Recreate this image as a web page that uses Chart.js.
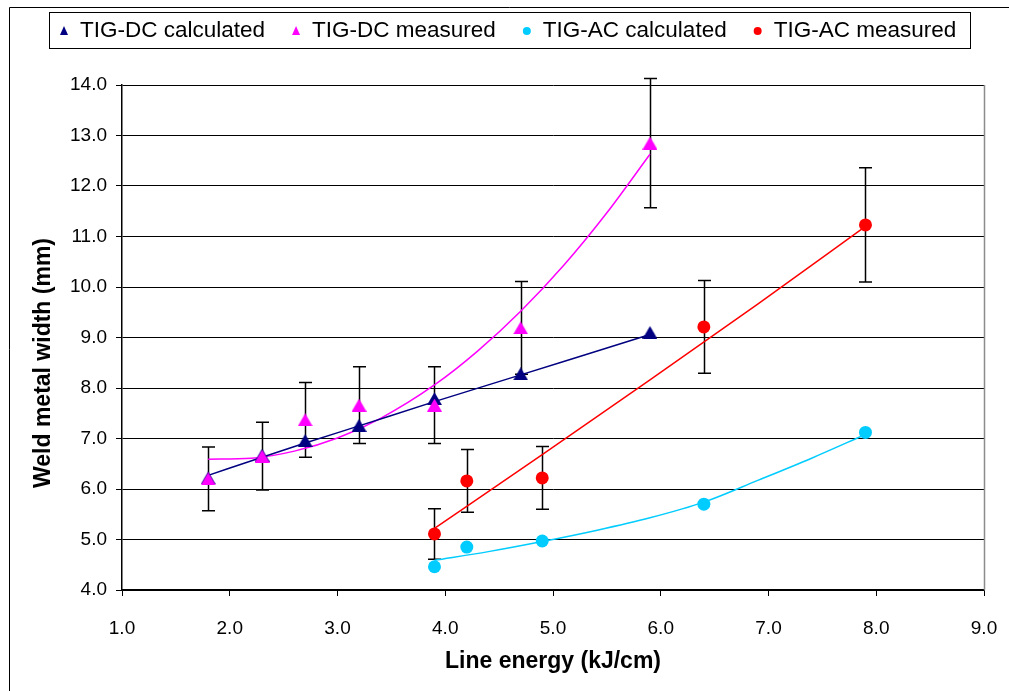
<!DOCTYPE html>
<html>
<head>
<meta charset="utf-8">
<title>Weld metal width vs line energy</title>
<script src="https://cdn.jsdelivr.net/npm/chart.js@4.4.1/dist/chart.umd.min.js"></script>
<style>
  html, body { margin: 0; padding: 0; background: #fff; }
  #wrap { width: 1009px; height: 691px; }
</style>
</head>
<body>
<div id="wrap"><canvas id="c" width="1009" height="691"></canvas></div>
<script>
// ---- data (line energy in kJ/cm, weld metal width in mm) ----
const dcEnergy = [1.8, 2.3, 2.7, 3.2, 3.9, 4.7, 5.9];
const dcCalculated = [6.22, 6.67, 6.96, 7.26, 7.79, 8.28, 9.10];
const dcMeasured = [6.20, 6.65, 7.37, 7.66, 7.66, 9.19, 12.85];
const dcMeasuredErr = [0.63, 0.67, 0.74, 0.76, 0.76, 0.92, 1.28];

const acEnergy = [3.9, 4.2, 4.9, 6.4, 7.9];
const acCalculated = [4.46, 4.85, 4.97, 5.70, 7.12];
const acMeasured = [5.11, 6.16, 6.22, 9.21, 11.23];
const acMeasuredErr = [0.50, 0.62, 0.62, 0.92, 1.13];

// trend lines through each series
const dcCalcTrendX = [1.8, 2.3, 2.7, 3.2, 3.9, 4.7, 5.3, 5.9];
const dcCalcTrendY = [6.27, 6.63, 6.91, 7.25, 7.73, 8.26, 8.66, 9.06];
const dcMeasTrendX = [1.8, 2.2, 2.6, 3.0, 3.4, 3.9, 4.3, 4.7, 5.1, 5.5, 5.9];
const dcMeasTrendY = [6.59, 6.61, 6.75, 7.01, 7.40, 8.06, 8.73, 9.52, 10.43, 11.47, 12.63];
const acCalcTrendX = [3.9, 4.4, 4.9, 5.4, 5.9, 6.4, 6.9, 7.4, 7.9];
const acCalcTrendY = [4.59, 4.76, 4.96, 5.18, 5.43, 5.74, 6.17, 6.61, 7.08];
const acMeasTrendX = [3.9, 4.9, 5.9, 6.9, 7.9];
const acMeasTrendY = [5.22, 6.68, 8.16, 9.66, 11.20];

const xTicks = [1, 2, 3, 4, 5, 6, 7, 8, 9];
const yTicks = [4, 5, 6, 7, 8, 9, 10, 11, 12, 13, 14];

const xTitle = 'Line energy (kJ/cm)';
const yTitle = 'Weld metal width (mm)';

const NAVY = '#000080', MAGENTA = '#FF00FF', SKY = '#00CCFF', RED = '#FF0000';
const FONT = '"Liberation Sans", Arial, Helvetica, sans-serif';

const pts = (xs, ys) => xs.map((x, i) => ({ x: x, y: ys[i] }));

// triangle marker whose bounding box is centred on the data point
function triangleSprite(color, w, h) {
  const c = document.createElement('canvas');
  c.width = w; c.height = h;
  const g = c.getContext('2d');
  g.fillStyle = color;
  g.beginPath();
  g.moveTo(w / 2, 0); g.lineTo(w, h); g.lineTo(0, h);
  g.closePath();
  g.fill();
  return c;
}

function markerSet(label, xs, ys, color, shape, err, order) {
  const style = shape === 'triangle' ? triangleSprite(color, 15, 13) : 'circle';
  return {
    label: label, type: 'scatter', data: pts(xs, ys), errors: err || null,
    shape: shape, pointStyle: style, pointRadius: 6.5, pointHoverRadius: 6.5,
    backgroundColor: color, borderColor: color, borderWidth: 0,
    showLine: false, inLegend: true, order: order
  };
}
function trendSet(xs, ys, color) {
  return {
    label: '', type: 'line', data: pts(xs, ys), borderColor: color,
    borderWidth: 1.5, pointRadius: 0, showLine: true, fill: false,
    cubicInterpolationMode: 'monotone', inLegend: false, order: 10
  };
}

// vertical error bars with caps, drawn underneath the markers
const errorBars = {
  id: 'errorBars',
  beforeDatasetsDraw(chart) {
    const { ctx, scales: { x, y } } = chart;
    ctx.save();
    ctx.strokeStyle = '#000';
    ctx.lineWidth = 1.5;
    chart.data.datasets.forEach(ds => {
      if (!ds.errors) return;
      ds.data.forEach((p, i) => {
        const px = Math.round(x.getPixelForValue(p.x)) + 0.5;
        const top = y.getPixelForValue(p.y + ds.errors[i]);
        const bot = y.getPixelForValue(p.y - ds.errors[i]);
        ctx.beginPath();
        ctx.moveTo(px, top); ctx.lineTo(px, bot);
        ctx.moveTo(px - 6.5, top); ctx.lineTo(px + 6.5, top);
        ctx.moveTo(px - 6.5, bot); ctx.lineTo(px + 6.5, bot);
        ctx.stroke();
      });
    });
    ctx.restore();
  }
};

// page frame, plot-area right edge, vertical axis title and boxed legend
const frame = {
  id: 'frame',
  beforeDraw(chart) {
    const ctx = chart.ctx;
    ctx.save();
    ctx.fillStyle = '#fff';
    ctx.fillRect(0, 0, chart.width, chart.height);
    ctx.strokeStyle = '#000';
    ctx.lineWidth = 1;
    ctx.beginPath();
    ctx.moveTo(9.5, chart.height); ctx.lineTo(9.5, 7.5); ctx.lineTo(chart.width, 7.5);
    ctx.stroke();
    ctx.restore();
  },
  afterDraw(chart) {
    const ctx = chart.ctx, a = chart.chartArea;
    ctx.save();
    ctx.strokeStyle = '#8c8c8c';
    ctx.lineWidth = 1.5;
    ctx.beginPath();
    ctx.moveTo(Math.round(a.right) + 0.5, a.top); ctx.lineTo(Math.round(a.right) + 0.5, a.bottom);
    ctx.stroke();

    // vertical axis title
    ctx.save();
    ctx.translate(44, 363);
    ctx.rotate(-Math.PI / 2);
    ctx.font = 'bold 23px ' + FONT;
    ctx.fillStyle = '#000';
    ctx.textAlign = 'center';
    ctx.textBaseline = 'middle';
    ctx.fillText(yTitle, 0, 0);
    ctx.restore();

    // legend box
    const box = { l: 49.5, t: 12.5, r: 970.5, b: 48.5 };
    ctx.fillStyle = '#fff';
    ctx.fillRect(box.l, box.t, box.r - box.l, box.b - box.t);
    ctx.strokeStyle = '#000';
    ctx.lineWidth = 1;
    ctx.strokeRect(box.l, box.t, box.r - box.l, box.b - box.t);
    ctx.font = '22.5px ' + FONT;
    ctx.textBaseline = 'middle';
    const items = chart.data.datasets.filter(d => d.inLegend);
    const markGap = 16, itemGap = 31;
    let cx = 64;
    const cy = (box.t + box.b) / 2 + 0.5;
    items.forEach(d => {
      const mx = cx;
      ctx.fillStyle = d.backgroundColor;
      ctx.beginPath();
      if (d.shape === 'triangle') {
        ctx.moveTo(mx, cy - 5); ctx.lineTo(mx + 4, cy + 4); ctx.lineTo(mx - 4, cy + 4);
        ctx.closePath();
      } else {
        ctx.arc(mx, cy, 4, 0, Math.PI * 2);
      }
      ctx.fill();
      ctx.fillStyle = '#000';
      ctx.textAlign = 'left';
      ctx.fillText(d.label, mx + markGap, cy);
      cx = mx + markGap + ctx.measureText(d.label).width + itemGap;
    });
    ctx.restore();
  }
};

new Chart(document.getElementById('c'), {
  type: 'scatter',
  data: {
    datasets: [
      markerSet('TIG-DC calculated', dcEnergy, dcCalculated, NAVY, 'triangle', null, 4),
      markerSet('TIG-DC measured', dcEnergy, dcMeasured, MAGENTA, 'triangle', dcMeasuredErr, 3),
      markerSet('TIG-AC calculated', acEnergy, acCalculated, SKY, 'circle', null, 2),
      markerSet('TIG-AC measured', acEnergy, acMeasured, RED, 'circle', acMeasuredErr, 1),
      trendSet(dcCalcTrendX, dcCalcTrendY, NAVY),
      trendSet(dcMeasTrendX, dcMeasTrendY, MAGENTA),
      trendSet(acCalcTrendX, acCalcTrendY, SKY),
      trendSet(acMeasTrendX, acMeasTrendY, RED)
    ]
  },
  options: {
    responsive: false,
    animation: false,
    events: [],
    layout: { padding: { left: 0, top: 85, right: 25, bottom: 0 } },
    plugins: { legend: { display: false }, tooltip: { enabled: false } },
    scales: {
      x: {
        type: 'linear', min: xTicks[0], max: xTicks[xTicks.length - 1],
        afterBuildTicks: s => { s.ticks = xTicks.map(v => ({ value: v })); },
        afterFit: s => { s.height = 101; s.paddingLeft = 0; s.paddingRight = 0; },
        ticks: {
          callback: v => Number(v).toFixed(1), color: '#000',
          font: { family: FONT, size: 19 }, padding: 21, maxRotation: 0
        },
        grid: { drawOnChartArea: false, tickLength: 6, color: '#000', lineWidth: 1 },
        border: { color: '#000', width: 1.5 },
        title: {
          display: true, text: xTitle, color: '#000',
          font: { family: FONT, size: 23, weight: 'bold', lineHeight: 1 },
          padding: { top: 0, bottom: 18 }
        }
      },
      y: {
        type: 'linear', min: yTicks[0], max: yTicks[yTicks.length - 1],
        afterBuildTicks: s => { s.ticks = yTicks.map(v => ({ value: v })); },
        afterFit: s => { s.width = 122; s.paddingTop = 0; s.paddingBottom = 0; },
        ticks: {
          callback: v => Number(v).toFixed(1), color: '#000',
          font: { family: FONT, size: 19 }, padding: 9
        },
        grid: { tickLength: 6, color: '#000', lineWidth: 1 },
        border: { color: '#000', width: 1.5 },
        title: { display: false }
      }
    }
  },
  plugins: [errorBars, frame]
});
</script>
</body>
</html>
